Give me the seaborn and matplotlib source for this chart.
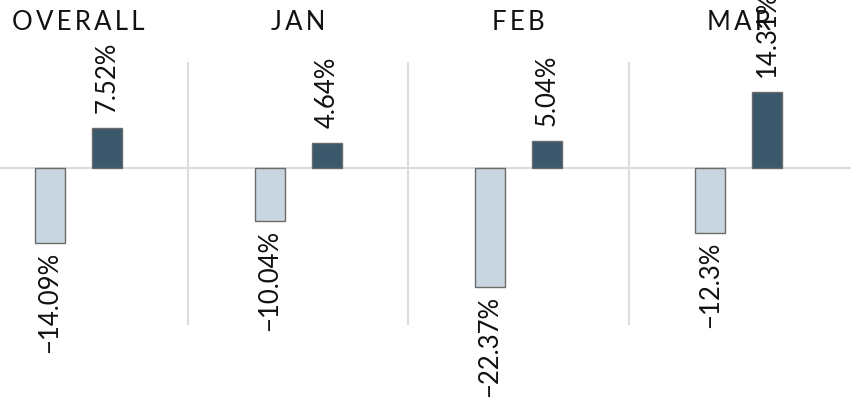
import pandas as pd
import matplotlib
matplotlib.use("Agg")
import matplotlib.pyplot as plt
import seaborn as sns

# Data
groups = ["OVERALL", "JAN", "FEB", "MAR"]
neg_values = [-14.09, -10.04, -22.37, -12.3]
pos_values = [7.52, 4.64, 5.04, 14.31]
neg_labels = ["−14.09%", "−10.04%", "−22.37%", "−12.3%"]
pos_labels = ["7.52%", "4.64%", "5.04%", "14.31%"]

df = pd.DataFrame({
    "group": groups * 2,
    "value": neg_values + pos_values,
    "kind": ["neg"] * len(groups) + ["pos"] * len(groups),
})

sns.set_style("white")
plt.rcParams["font.family"] = ["Lato", "DejaVu Sans"]

fig = plt.figure(figsize=(8.51, 4.0), dpi=100)
ax = fig.add_axes([0, 0, 1, 1])

sns.barplot(data=df, x="group", y="value", hue="kind", order=groups,
            palette={"neg": "#c3d7e5", "pos": "#335a74"},
            width=0.52, gap=0.477, edgecolor="#6b6b6b", linewidth=1,
            legend=False, ax=ax, zorder=3)

ax.set_xlim(-0.355, 3.51)
ax.set_ylim(-43.6, 31.58)
ax.axis("off")

# zero line and separators
ax.axhline(0, color="#dcdcdc", lw=1.5, zorder=1)
ax.vlines([0.5, 1.5, 2.5], -29.5, 19.9, color="#dcdcdc", lw=1.5, zorder=1)

# group titles
for i, g in enumerate(groups):
    ax.text(i, 27.4, "\u2009".join(g), ha="center", va="center",
            fontsize=18.5, color="#111111")

# value labels
ax.bar_label(ax.containers[0], labels=neg_labels, rotation=90, padding=6,
             fontsize=18.5, color="#111111")
ax.bar_label(ax.containers[1], labels=pos_labels, rotation=90, padding=11,
             fontsize=18.5, color="#111111")

fig.savefig("out.png", dpi=100)
